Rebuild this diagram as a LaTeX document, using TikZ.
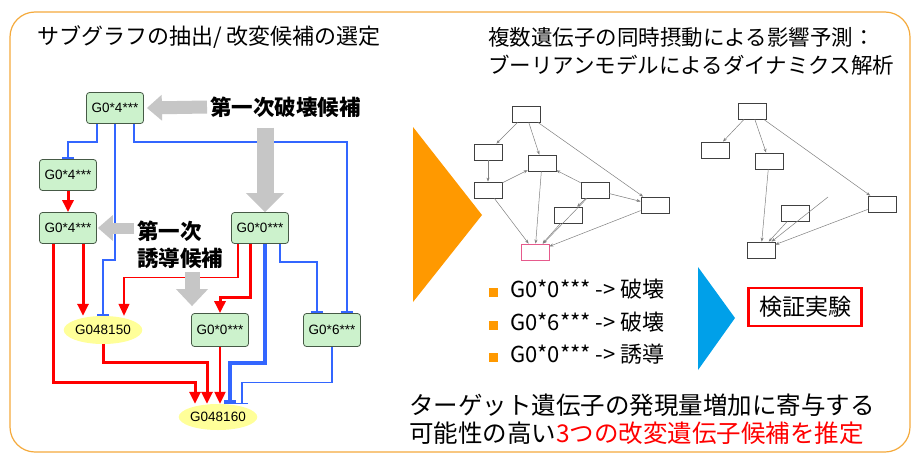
\documentclass[tikz,border=0pt]{standalone}
\usepackage{fontspec}
\usepackage{xcolor}
\usepackage{tikz}
\usetikzlibrary{shapes.geometric,arrows.meta,positioning}

\newfontfamily\jp{Noto Sans CJK JP}
\newfontfamily\arial{Liberation Sans}

\definecolor{nodegreen}{RGB}{204,242,204}
\definecolor{nodeedge}{RGB}{70,90,70}
\definecolor{geneyellow}{RGB}{255,255,153}
\definecolor{actred}{RGB}{255,0,0}
\definecolor{inhblue}{RGB}{51,102,255}
\definecolor{framecol}{RGB}{245,170,60}
\definecolor{bigorange}{RGB}{255,153,0}
\definecolor{bigblue}{RGB}{0,160,233}
\definecolor{minipink}{RGB}{230,90,140}

\begin{document}
\begin{tikzpicture}[
    x=1pt, y=-1pt,
    gene/.style={rectangle, rounded corners=3pt, draw=nodeedge, line width=0.8pt, fill=nodegreen, minimum width=57pt, minimum height=31pt, inner sep=1pt, font=\arial\fontsize{13.5}{15}\selectfont},
    tgene/.style={ellipse, fill=geneyellow, minimum width=60pt, minimum height=28pt, inner sep=0pt, font=\arial\fontsize{13.5}{15}\selectfont},
    act/.style={draw=actred, line width=3pt, -{Triangle[length=12pt,width=11pt]}},
    inh/.style={draw=inhblue, line width=2.3pt, -{Bar[width=12pt]}},
    grayarr/.style={draw=gray!45, line width=#1},
    hint/.style={inner sep=0pt, align=left, font=\jp\bfseries\fontsize{21.5}{27}\selectfont},
    title/.style={inner sep=0pt, anchor=west, align=left, font=\jp\fontsize{21.5}{28}\selectfont},
    mini/.style={rectangle, draw=black!75, line width=0.8pt, fill=white, minimum width=28pt, minimum height=16pt, inner sep=0pt},
    wire/.style={draw=black!50, line width=0.5pt, -{Stealth[length=4pt,width=3pt]}},
    item/.style={inner sep=0pt, anchor=west, font=\jp\fontsize{22}{24}\selectfont},
    bullet/.style={rectangle, fill=bigorange, minimum size=9pt, inner sep=0pt}
]

\useasboundingbox (0,0) rectangle (912,460);
\fill[white] (0,0) rectangle (912,460);
\draw[framecol, line width=1.2pt, rounded corners=25pt] (10,12) rectangle (910,452);

% titles
\node[title, font=\jp\fontsize{22}{28}\selectfont] (ttlL) at (37,37) {サブグラフの抽出/ 改変候補の選定};
\node[title] (ttlR) at (488,51) {複数遺伝子の同時摂動による影響予測：\\ブーリアンモデルによるダイナミクス解析};

% subgraph
\node[gene] (ga) at (115,108) {G0*4***};
\node[gene] (gb) at (68,175) {G0*4***};
\node[gene] (gc) at (68,228) {G0*4***};
\node[gene] (gd) at (260,228) {G0*0***};
\node[tgene] (ge) at (103,330) {G048150};
\node[gene, minimum height=33pt] (gf) at (220,330) {G0*0***};
\node[gene, minimum height=33pt] (gg) at (332,330) {G0*6***};
\node[tgene, minimum height=26pt] (gh) at (218,417) {G048160};

% red: activation, blue: repression
\draw[inh] ([xshift=-18pt]ga.south) -- ++(0,18) -| (gb.north);
\draw[inh] (ga.south) -- ++(0,136) -| (ge.north);
\draw[inh, line width=2.6pt] ([xshift=19pt]ga.south) -- ++(0,18) -| ([xshift=15pt]gg.north);
\draw[act] (gb) -- (gc);
\draw[act] ([xshift=-15pt]gc.south) -- ++(0,139) -| ([xshift=-23pt]gh.north);
\draw[act] ([xshift=15pt]gc.south) -- ([xshift=-20pt]ge.north);
\draw[act, line width=1.1pt] ([xshift=-22pt]gd.south) -- ++(0,34) -| ([xshift=21pt]ge.north);
\draw[act] ([xshift=-10pt]gd.south) -- ++(0,54) -| (gf.north);
\draw[inh, line width=3.4pt] ([xshift=5pt]gd.south) -- ++(0,119) -| ([xshift=12pt]gh.north);
\draw[inh] ([xshift=20pt]gd.south) -- ++(0,18) -| ([xshift=-15pt]gg.north);
\draw[act] (ge.south) -- ++(0,18) -| ([xshift=-11pt]gh.north);
\draw[act, line width=2.2pt] (gf.south) -- ([xshift=2pt]gh.north);
\draw[inh, line width=1.1pt] (gg.south) -- ++(0,36) -| ([xshift=24pt]gh.north);

% candidates
\node[hint, anchor=west] (hintA) at (210,107) {第一次破壊候補};
\node[hint, anchor=north west] (hintB) at (137,221) {第一次\\誘導候補};

\draw[grayarr=13pt, -{Triangle[length=15pt,width=25pt]}] ([xshift=-3pt]hintA.west) -- ([xshift=3pt]ga.east);
\draw[grayarr=17pt, -{Triangle[length=19pt,width=37pt]}] ([xshift=55pt,yshift=-10pt]hintA.south west) -- ([xshift=5pt]gd.north);
\draw[grayarr=11pt, -{Triangle[length=15pt,width=25pt]}] ([xshift=-3pt,yshift=-7pt]hintB.north west) -- ([xshift=1pt]gc.east);
\draw[grayarr=15pt, -{Triangle[length=17pt,width=31pt]}] ([xshift=55pt,yshift=-3pt]hintB.south west) -- ([xshift=-28pt,yshift=7pt]gf.north);

\fill[bigorange] (413,127) -- (482,215) -- (413,302) -- cycle;

% boolean model, all genes
\node[mini] (a1) at (526,114) {};
\node[mini] (b1) at (488,152) {};
\node[mini] (c1) at (542,163) {};
\node[mini] (d1) at (488,190) {};
\node[mini] (e1) at (595,190) {};
\node[mini] (f1) at (568,215) {};
\node[mini] (g1) at (655,205) {};
\node[mini, draw=minipink] (h1) at (535,252) {};
\draw[wire] (a1) -- (b1);
\draw[wire] (a1) -- (c1);
\draw[wire] (a1) -- (g1);
\draw[wire] (b1) -- (d1);
\draw[wire] (d1) -- (c1);
\draw[wire] (e1) -- (c1);
\draw[wire] (e1) -- (g1);
\draw[wire] (e1) -- (f1);
\draw[wire] (d1) -- (h1);
\draw[wire] (c1) -- (h1);
\draw[wire] (f1) -- (h1);
\draw[wire] (e1) -- (h1);
\draw[wire] (g1) -- (h1);

% boolean model, after perturbation
\node[mini] (a2) at (752,111) {};
\node[mini] (b2) at (715,150) {};
\node[mini] (c2) at (769,161) {};
\node[mini] (f2) at (795,213) {};
\node[mini] (g2) at (882,204) {};
\node[mini] (h2) at (761,250) {};
\coordinate (e2) at (828,197);
\draw[wire] (a2) -- (b2);
\draw[wire] (a2) -- (c2);
\draw[wire] (a2) -- (g2);
\draw[wire] (c2) -- (h2);
\draw[wire] (f2) -- (h2);
\draw[wire] (e2) -- (h2);
\draw[wire] (g2) -- (h2);

% predictions
\node[item] (li1) at (510,289) {G0*0*** -> 破壊};
\node[item] (li2) at (510,322) {G0*6*** -> 破壊};
\node[item] (li3) at (510,354) {G0*0*** -> 誘導};
\node[bullet, left=12pt of li1, yshift=-3pt] (bu1) {};
\node[bullet, left=12pt of li2, yshift=-3pt] (bu2) {};
\node[bullet, left=12pt of li3, yshift=-3pt] (bu3) {};

\fill[bigblue] (698,267) -- (735,318) -- (698,370) -- cycle;
\node[draw=actred, line width=2.5pt, minimum width=113pt, minimum height=38pt, font=\jp\fontsize{23}{25}\selectfont] (exp) at (805,307) {検証実験};

\node[title, font=\jp\fontsize{24.5}{30}\selectfont] (sum1) at (409,405) {ターゲット遺伝子の発現量増加に寄与する};
\node[title, font=\jp\fontsize{24.5}{30}\selectfont] (sum2) at (409,433) {可能性の高い\textcolor{actred}{3つの改変遺伝子候補を推定}};

\end{tikzpicture}
\end{document}
